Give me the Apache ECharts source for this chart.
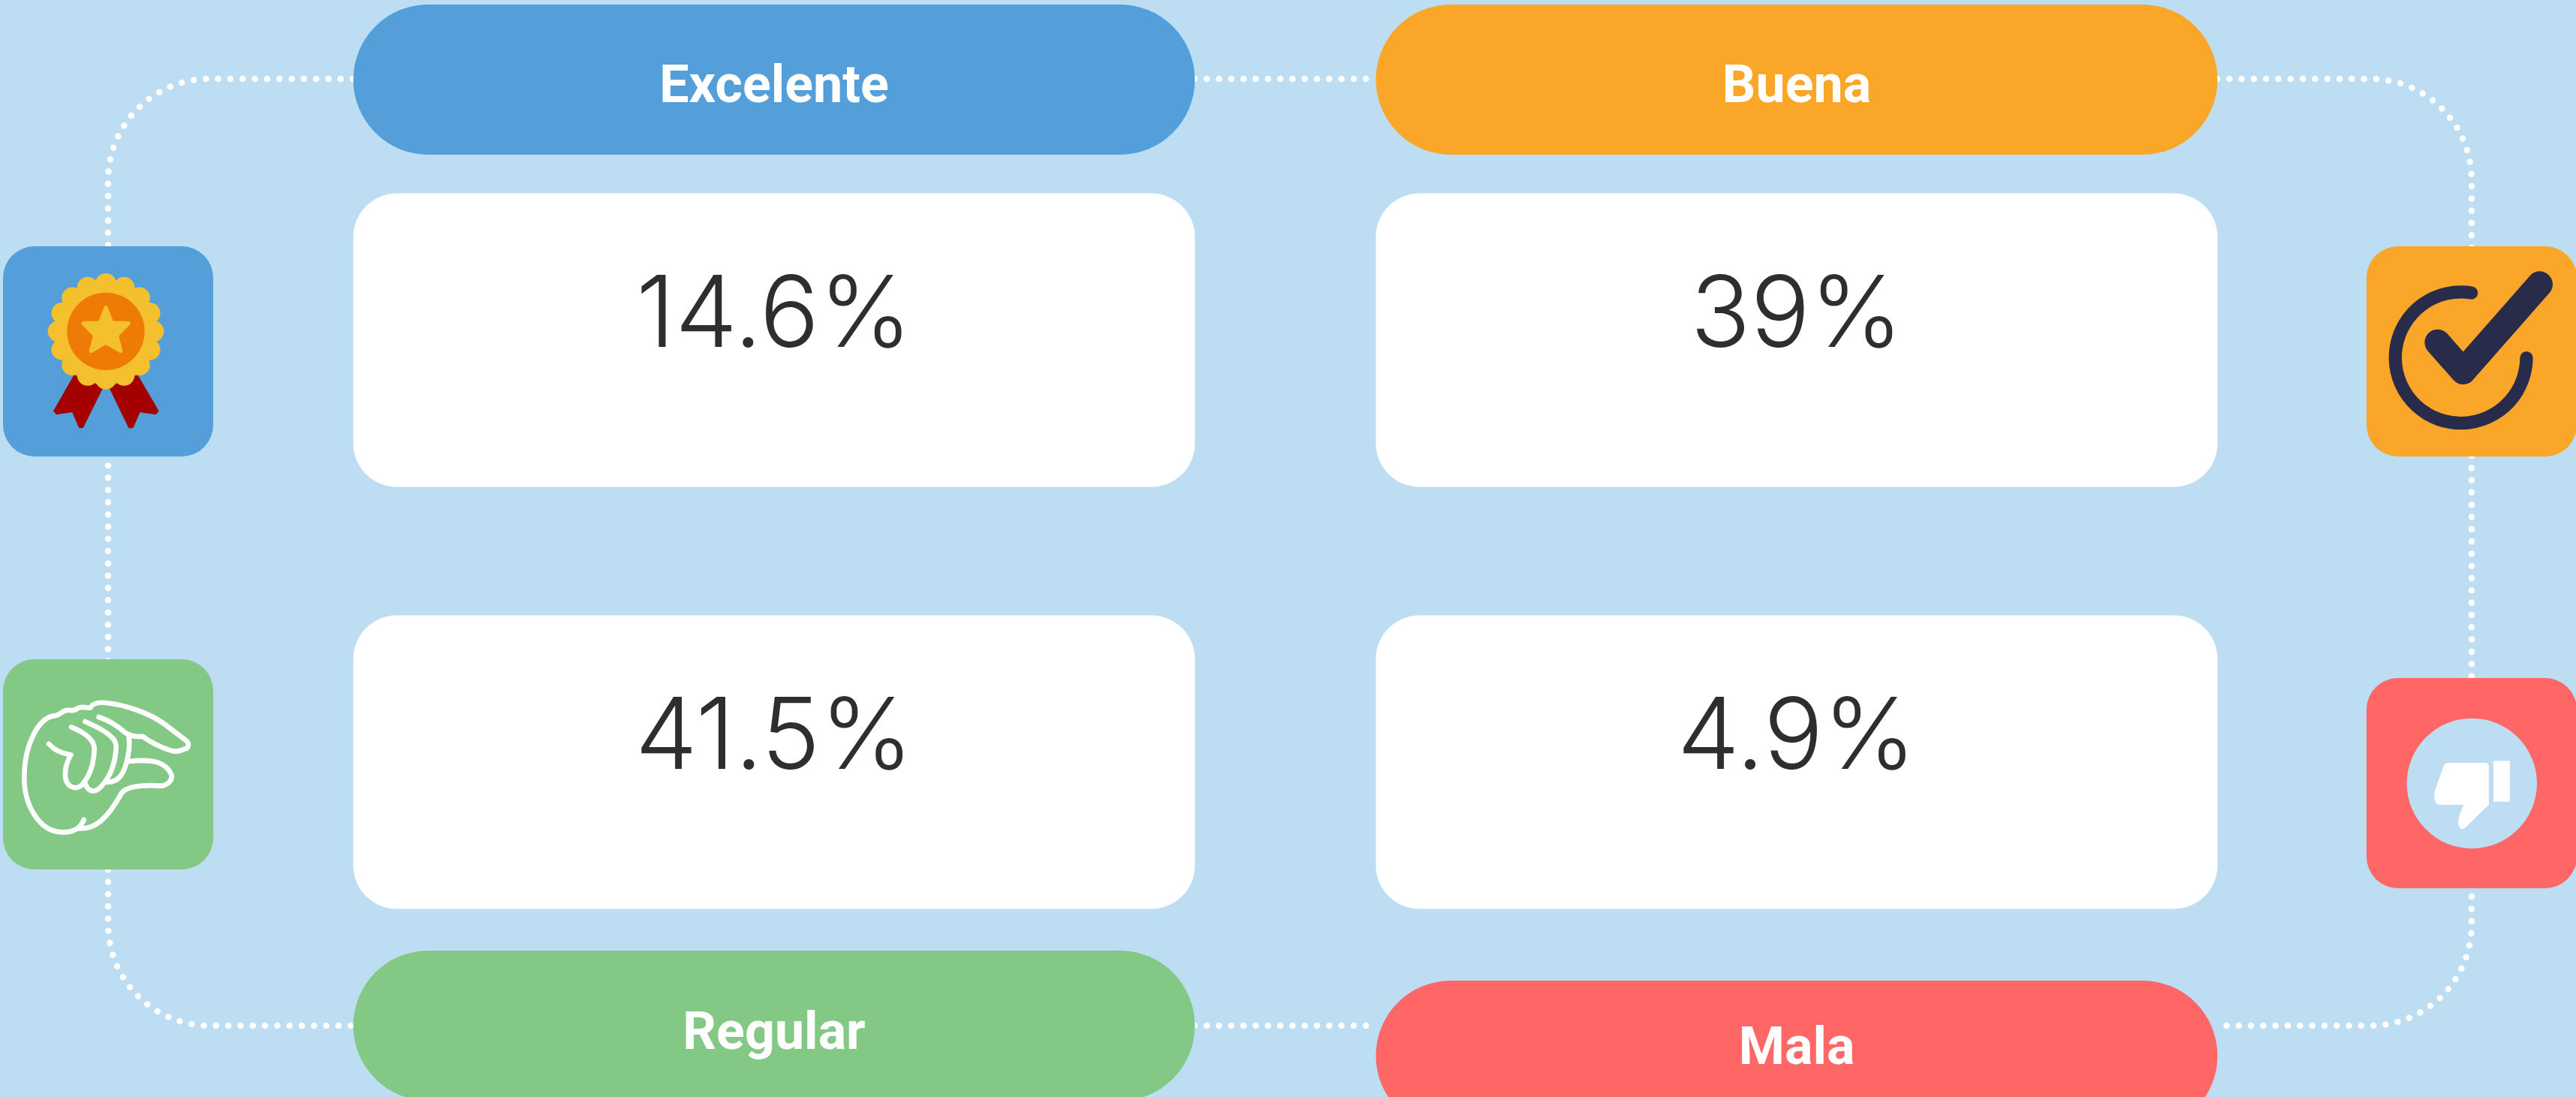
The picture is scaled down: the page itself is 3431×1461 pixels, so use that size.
<!DOCTYPE html>
<html>
<head>
<meta charset="utf-8">
<title>Calificación</title>
<style>
  html, body { margin: 0; padding: 0; background: #bdddf2; overflow: hidden; }
  #main { width: 3431px; height: 1461px; }
</style>
</head>
<body>
<div id="main"></div>
<script src="https://cdn.jsdelivr.net/npm/echarts@6/dist/echarts.min.js"></script>
<script>
// datos
const categories = ['Excelente', 'Buena', 'Regular', 'Mala']
const values = [14.6, 39, 41.5, 4.9]
const columns = ['izquierda', 'derecha']
const rows = ['arriba', 'abajo']

// estilos
const BG = '#bdddf2'
const colors = ['#549fd9', '#faa629', '#83c985', '#ff6666']
const pillDy = [-347, -347, 351, 391] // centro de la pastilla respecto a la tarjeta
const labelDy = [-342, -342, 357, 377]
const iconBox = [[4, 328], [3152, 328], [4, 878], [3152, 903]]
const CARD_W = 1121
const CARD_H = 391
const PILL_H = 200
const ICON = 280

const DOT_PATH = 'M470 105 L279 105 A135 135 0 0 0 144 240 L144 1231 A135 135 0 0 0 279 1366 L470 1366 ' +
  'M1591 105 L1833 105 M1591 1366 L1833 1366 ' +
  'M2953 105 L3157 105 A135 135 0 0 1 3292 240 L3292 1231 A135 135 0 0 1 3157 1366 L2953 1366'

// iconos, dibujados en las coordenadas del recorte x3
function medalIcon () {
  const gold = '#f5c02e'
  const children = []
  const ribbon = { fill: '#a50000', stroke: '#a50000', lineWidth: 12, lineJoin: 'round' }
  children.push({ type: 'polygon', shape: { points: [[298, 545], [220, 682], [228, 690], [292, 680], [320, 745], [328, 745], [405, 590]] }, style: ribbon })
  children.push({ type: 'polygon', shape: { points: [[548, 545], [628, 682], [620, 690], [556, 680], [528, 745], [518, 745], [443, 590]] }, style: ribbon })
  children.push({ type: 'circle', shape: { cx: 423, cy: 364, r: 208 }, style: { fill: gold } })
  for (let i = 0; i < 16; i++) {
    const a = i * Math.PI / 8
    children.push({ type: 'circle', shape: { cx: 423 + 190 * Math.sin(a), cy: 364 - 190 * Math.cos(a), r: 42 }, style: { fill: gold } })
  }
  children.push({ type: 'circle', shape: { cx: 423, cy: 364, r: 155 }, style: { fill: '#ee7b06' } })
  children.push({
    type: 'polygon',
    shape: { points: [[423, 270], [446, 330], [513, 332], [466, 380], [482, 442], [423, 408], [364, 442], [380, 380], [333, 332], [400, 330]] },
    style: { fill: gold, stroke: gold, lineWidth: 16, lineJoin: 'round' }
  })
  return { origin: [0, 320], children }
}

function checkIcon () {
  const navy = '#282c4a'
  return {
    origin: [3100, 300],
    children: [
      { type: 'path', shape: { pathData: 'M575 270 A262 262 0 1 0 795 530' }, style: { fill: null, stroke: navy, lineWidth: 52, lineCap: 'round' } },
      { type: 'path', shape: { pathData: 'M440 468 L542 584 L848 236' }, style: { fill: null, stroke: navy, lineWidth: 104, lineCap: 'round', lineJoin: 'round' } }
    ]
  }
}

function handIcon () {
  const line = { fill: null, stroke: '#fff', lineWidth: 20, lineCap: 'round', lineJoin: 'round' }
  const d = 'M335 695 C330 710 322 720 310 730 C290 742 270 746 250 745 C160 745 92 640 97 510 C100 400 150 290 215 280 ' +
    'C235 280 240 265 265 258 C285 255 295 265 310 250 C330 240 345 250 360 248 C370 230 390 225 420 228 ' +
    'C500 235 600 270 660 315 L745 380 C760 395 750 410 740 412 C720 422 700 425 680 418 C640 405 600 385 570 362 ' +
    'C545 365 520 360 500 347 C470 320 440 300 395 285 ' +
    'M315 730 C380 735 430 690 485 590 C505 560 570 555 650 560 C680 550 690 530 685 515 C665 470 620 450 515 462 ' +
    'M340 303 C390 325 430 345 455 375 C465 390 465 400 463 420 C460 470 440 520 415 550 C400 570 385 583 370 580 C355 578 345 565 340 550 ' +
    'M285 325 C320 340 350 355 370 385 C378 400 378 410 375 440 C370 490 350 530 330 553 C315 570 295 570 280 560 C262 548 258 525 262 495 C265 470 275 450 283 436 C240 430 215 415 195 392 ' +
    'M515 365 C520 395 515 430 505 470 C490 520 470 545 430 545'
  return { origin: [0, 860], children: [{ type: 'path', shape: { pathData: d }, style: line }] }
}

function thumbIcon () {
  const d = 'M480 408 L630 408 Q645 408 645 425 L645 575 L552 665 Q535 682 525 660 Q515 635 545 575 L445 575 Q425 570 427 525 L462 425 Q468 408 480 408 Z'
  return {
    origin: [3100, 880],
    children: [
      { type: 'circle', shape: { cx: 577, cy: 490, r: 260 }, style: { fill: BG } },
      { type: 'rect', shape: { x: 663, y: 400, width: 66, height: 163 }, style: { fill: '#fff' } },
      { type: 'path', shape: { pathData: d }, style: { fill: '#fff' } }
    ]
  }
}

const icons = [medalIcon, checkIcon, handIcon, thumbIcon]

function renderConnector () {
  return {
    type: 'path',
    shape: { pathData: DOT_PATH },
    style: { fill: null, stroke: '#fff', lineWidth: 8.5, lineCap: 'round', lineDash: [0.01, 16.3] }
  }
}

function renderCard (params, api) {
  const i = params.dataIndex
  const c = api.coord([api.value(0), api.value(1)])
  const icon = icons[i]()
  return {
    type: 'group',
    children: [
      { type: 'rect', shape: { x: c[0] - CARD_W / 2, y: c[1] - CARD_H / 2, width: CARD_W, height: CARD_H, r: 58 }, style: { fill: '#fff' } },
      { type: 'text', x: c[0], y: c[1] - 31, style: { text: values[i] + '%', fontFamily: 'Inter', fontWeight: 350, fontSize: 132, fill: '#2e2e2e', textAlign: 'center', textVerticalAlign: 'middle' } },
      { type: 'rect', shape: { x: c[0] - CARD_W / 2, y: c[1] + pillDy[i] - PILL_H / 2, width: CARD_W, height: PILL_H, r: 100 }, style: { fill: colors[i] } },
      { type: 'text', x: c[0], y: c[1] + labelDy[i] + 7, style: { text: categories[i], fontFamily: 'Roboto', fontWeight: 700, fontSize: 70, fill: '#fff', textAlign: 'center', textVerticalAlign: 'middle' } },
      { type: 'rect', shape: { x: iconBox[i][0], y: iconBox[i][1], width: ICON, height: ICON, r: 42 }, style: { fill: colors[i] } },
      { type: 'group', x: icon.origin[0], y: icon.origin[1], scaleX: 1 / 3, scaleY: 1 / 3, children: icon.children }
    ]
  }
}

const chart = echarts.init(document.getElementById('main'))
chart.setOption({
  animation: false,
  backgroundColor: BG,
  grid: { left: 350, top: 172, width: 2724, height: 1124 },
  xAxis: { type: 'category', data: columns, show: false },
  yAxis: { type: 'category', data: rows, inverse: true, show: false },
  series: [
    { type: 'custom', silent: true, coordinateSystem: 'none', data: [0], renderItem: renderConnector },
    {
      type: 'custom',
      silent: true,
      clip: false,
      encode: { x: 0, y: 1 },
      data: values.map((v, i) => [columns[i % 2], rows[i >> 1], v]),
      renderItem: renderCard
    }
  ]
})
</script>
</body>
</html>
